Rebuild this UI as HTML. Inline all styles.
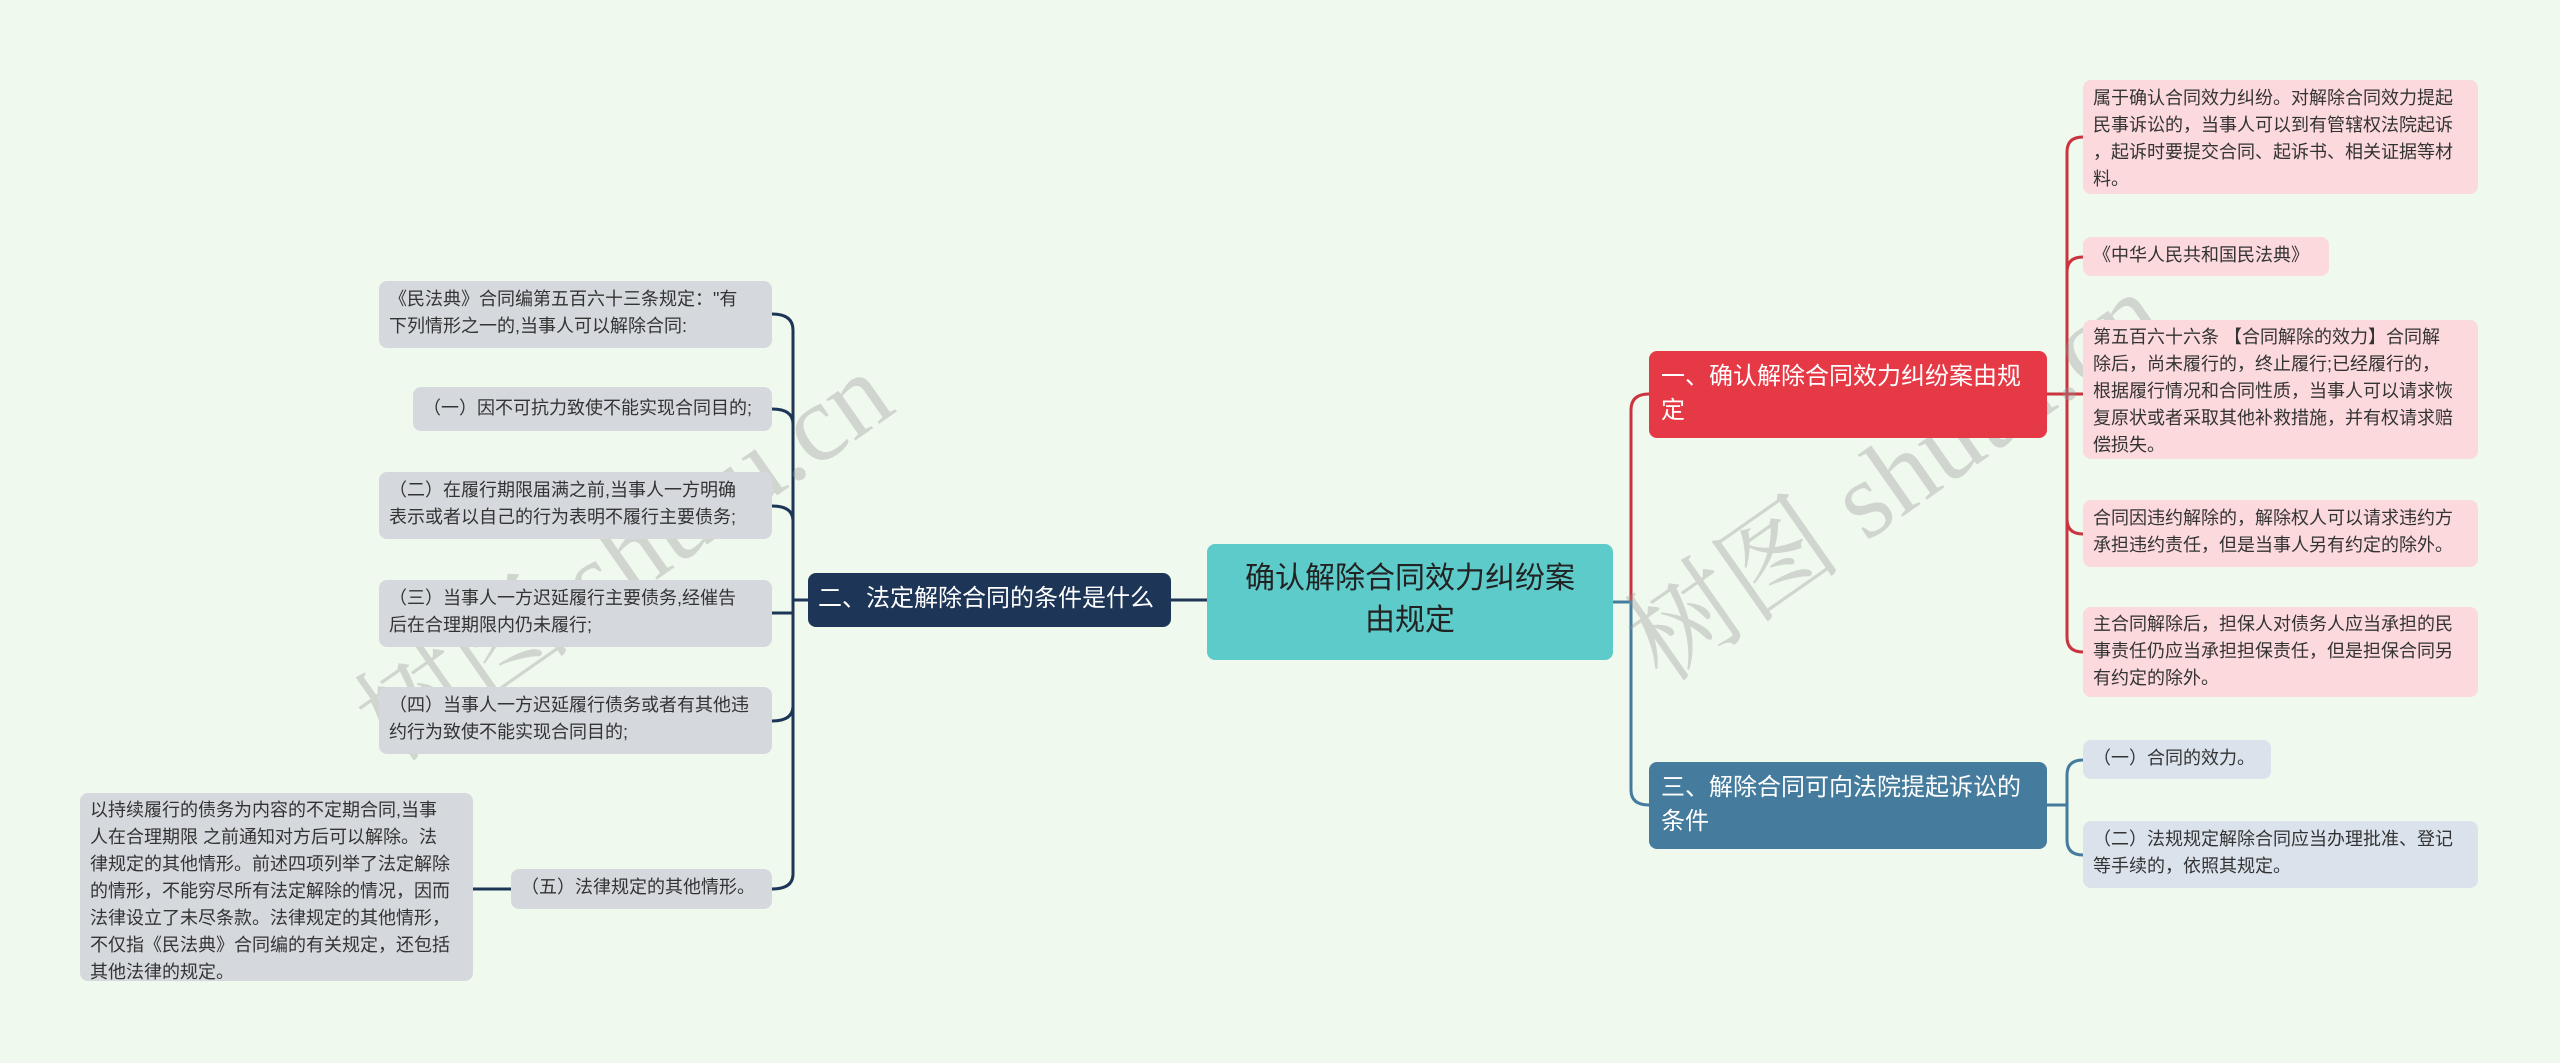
<!DOCTYPE html>
<html><head><meta charset="utf-8">
<style>
body{margin:0;width:2560px;height:1063px;background:#f0f9ee;position:relative;overflow:hidden;font-family:"Liberation Sans","Noto Sans CJK SC",sans-serif;}
.n{position:absolute;box-sizing:border-box;border-radius:8px;}
.lf{font-size:18px;line-height:27px;color:#333;padding:5px 4px 5px 10px;white-space:nowrap;}
.pk{background:#fbd9dd;}
.gy{background:#d5d9de;}
.bl{background:#dae3ec;}
.br{color:#fff;font-size:24px;line-height:34px;padding:9px 12px;}
.wm{position:absolute;font-family:"Liberation Serif","Noto Serif CJK SC",serif;font-size:110px;color:rgba(150,150,150,0.35);transform:rotate(-35deg);white-space:nowrap;}
svg{position:absolute;left:0;top:0;}
</style></head><body>
<svg width="2560" height="1063" fill="none" stroke-width="3">
<g stroke="#c9343f">
<path d="M1613 602 H1631 V410 Q1631 394 1649 394"/>
<path d="M2047 394 H2067"/>
<path d="M2067 394 V152 Q2067 137 2083 137"/>
<path d="M2067 394 V272 Q2067 257 2083 257"/>
<path d="M2067 394 H2083"/>
<path d="M2067 394 V519 Q2067 534 2083 534"/>
<path d="M2067 394 V637 Q2067 652 2083 652"/>
</g>
<g stroke="#457b9d">
<path d="M1613 602 H1631 V790 Q1631 805 1649 805"/>
<path d="M2047 805 H2067"/>
<path d="M2067 805 V775 Q2067 760 2083 760"/>
<path d="M2067 805 V840 Q2067 855 2083 855"/>
</g>
<g stroke="#1d3557">
<path d="M1207 600 H1171"/>
<path d="M808 600 H793"/>
<path d="M793 600 V330 Q793 314 772 314"/>
<path d="M793 600 V424 Q793 409 772 409"/>
<path d="M793 600 V521 Q793 506 772 506"/>
<path d="M793 600 V613 Q793 613 772 613"/>
<path d="M793 600 V706 Q793 721 772 721"/>
<path d="M793 600 V874 Q793 889 772 889"/>
<path d="M511 889 H473"/>
</g>
</svg>
<div class="wm" style="left:310px;top:470px;">树图 shutu.cn</div>
<div class="wm" style="left:1580px;top:390px;">树图 shutu.cn</div>

<div class="n" style="left:1207px;top:544px;width:406px;height:116px;background:#5ecbcb;color:#222;font-size:30px;line-height:42px;text-align:center;padding:14px 36px;">确认解除合同效力纠纷案由规定</div>

<div class="n br" style="left:1649px;top:351px;width:398px;height:87px;background:#e63946;">一、确认解除合同效力纠纷案由规定</div>
<div class="n br" style="left:1649px;top:762px;width:398px;height:87px;background:#457b9d;">三、解除合同可向法院提起诉讼的条件</div>
<div class="n br" style="left:808px;top:573px;width:363px;height:54px;background:#1d3557;padding:9px 10px;white-space:nowrap;">二、法定解除合同的条件是什么</div>

<div class="n lf pk" style="left:2083px;top:80px;width:395px;height:114px;">属于确认合同效力纠纷。对解除合同效力提起<br>民事诉讼的，当事人可以到有管辖权法院起诉<br>，起诉时要提交合同、起诉书、相关证据等材<br>料。</div>
<div class="n lf pk" style="left:2083px;top:237px;width:246px;height:39px;">《中华人民共和国民法典》</div>
<div class="n lf pk" style="left:2083px;top:320px;width:395px;height:139px;padding-top:4px;">第五百六十六条 【合同解除的效力】合同解<br>除后，尚未履行的，终止履行;已经履行的，<br>根据履行情况和合同性质，当事人可以请求恢<br>复原状或者采取其他补救措施，并有权请求赔<br>偿损失。</div>
<div class="n lf pk" style="left:2083px;top:500px;width:395px;height:67px;">合同因违约解除的，解除权人可以请求违约方<br>承担违约责任，但是当事人另有约定的除外。</div>
<div class="n lf pk" style="left:2083px;top:607px;width:395px;height:90px;padding-top:4px;">主合同解除后，担保人对债务人应当承担的民<br>事责任仍应当承担担保责任，但是担保合同另<br>有约定的除外。</div>

<div class="n lf bl" style="left:2083px;top:740px;width:188px;height:39px;">（一）合同的效力。</div>
<div class="n lf bl" style="left:2083px;top:821px;width:395px;height:67px;">（二）法规规定解除合同应当办理批准、登记<br>等手续的，依照其规定。</div>

<div class="n lf gy" style="left:379px;top:281px;width:393px;height:67px;">《民法典》合同编第五百六十三条规定："有<br>下列情形之一的,当事人可以解除合同:</div>
<div class="n lf gy" style="left:413px;top:387px;width:359px;height:44px;padding-top:8px;">（一）因不可抗力致使不能实现合同目的;</div>
<div class="n lf gy" style="left:379px;top:472px;width:393px;height:67px;">（二）在履行期限届满之前,当事人一方明确<br>表示或者以自己的行为表明不履行主要债务;</div>
<div class="n lf gy" style="left:379px;top:580px;width:393px;height:67px;">（三）当事人一方迟延履行主要债务,经催告<br>后在合理期限内仍未履行;</div>
<div class="n lf gy" style="left:379px;top:687px;width:393px;height:67px;">（四）当事人一方迟延履行债务或者有其他违<br>约行为致使不能实现合同目的;</div>
<div class="n lf gy" style="left:511px;top:869px;width:261px;height:40px;">（五）法律规定的其他情形。</div>
<div class="n lf gy" style="left:80px;top:793px;width:393px;height:188px;padding-top:4px;">以持续履行的债务为内容的不定期合同,当事<br>人在合理期限 之前通知对方后可以解除。法<br>律规定的其他情形。前述四项列举了法定解除<br>的情形，不能穷尽所有法定解除的情况，因而<br>法律设立了未尽条款。法律规定的其他情形，<br>不仅指《民法典》合同编的有关规定，还包括<br>其他法律的规定。</div>
</body></html>
